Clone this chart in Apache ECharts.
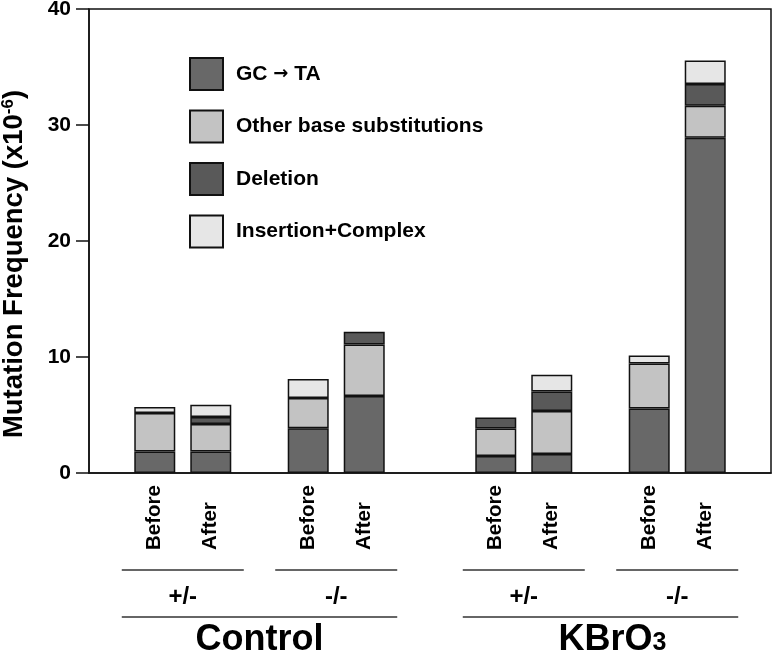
<!DOCTYPE html>
<html>
<head>
<meta charset="utf-8">
<script src="https://cdn.jsdelivr.net/npm/echarts@6/dist/echarts.min.js"></script>
<style>
html,body{margin:0;padding:0;background:#fff;}
#chart{width:773px;height:655px;}
</style>
</head>
<body>
<div id="chart"></div>
<script>
// ---- data ----
const groups = ['Control +/-', 'Control -/-', 'KBrO3 +/-', 'KBrO3 -/-'];
const treatments = ['Control', 'KBrO3'];
const genotypes = ['+/-', '-/-'];
const conditions = ['Before', 'After'];
const seriesNames = ['GC \u2192 TA', 'Other base substitutions', 'Deletion', 'Insertion+Complex'];

const gcBefore    = [1.85, 3.86, 1.47, 5.56];
const gcAfter     = [1.85, 6.64, 1.64, 28.9];
const otherBefore = [3.32, 2.61, 2.36, 3.88];
const otherAfter  = [2.37, 4.44, 3.71, 2.77];
const delBefore   = [0, 0, 0.95, 0];
const delAfter    = [0.60, 1.09, 1.67, 1.87];
const insBefore   = [0.53, 1.64, 0, 0.69];
const insAfter    = [1.07, 0, 1.44, 2.01];

const yMin = 0, yMax = 40, yInterval = 10;

// ---- layout helpers ----
const FONT = "'Liberation Sans', Arial, Helvetica, sans-serif";
const colors = ['#686868', '#c3c3c3', '#595959', '#e6e6e6'];
const slotCount = 40;
const groupSlots = [5, 14, 25, 34];

const categories = [];
for (let i = 0; i < slotCount; i++) categories.push('_' + i);
groupSlots.forEach((s, g) => { categories[s] = groups[g]; });

function spread(values) {
  const arr = new Array(slotCount).fill('-');
  groupSlots.forEach((s, g) => { arr[s] = values[g] === 0 ? '-' : values[g]; });
  return arr;
}

const beforeSets = [gcBefore, otherBefore, delBefore, insBefore];
const afterSets = [gcAfter, otherAfter, delAfter, insAfter];

const series = [];
[beforeSets, afterSets].forEach((sets, ci) => {
  sets.forEach((vals, si) => {
    const s = {
      name: seriesNames[si],
      type: 'bar',
      stack: conditions[ci],
      barWidth: 41,
      barGap: '36.6%',
      data: spread(vals),
      itemStyle: { color: colors[si], borderColor: '#111', borderWidth: 1.5 },
      emphasis: { disabled: true },
      animation: false
    };
    if (si === 0) {
      s.label = {
        show: true,
        position: 'bottom',
        distance: 77,
        rotate: 90,
        align: 'left',
        verticalAlign: 'middle',
        formatter: conditions[ci],
        color: '#000',
        fontFamily: FONT,
        fontWeight: 'bold',
        fontSize: 20.5
      };
    }
    series.push(s);
  });
});

const chart = echarts.init(document.getElementById('chart'), null, { renderer: 'canvas' });

chart.setOption({
  animation: false,
  backgroundColor: '#fff',
  grid: {
    left: 89, right: 2, top: 9, bottom: 182,
    outerBoundsMode: 'none',
    containLabel: false,
    show: true, borderColor: '#111', borderWidth: 1.5, backgroundColor: 'transparent'
  },
  legend: {
    data: seriesNames,
    orient: 'vertical',
    left: 184, top: 52,
    itemWidth: 33, itemHeight: 32, itemGap: 18.5,
    icon: 'rect',
    selectedMode: false,
    formatter: name => name.replace('\u2192', '{ar|\u2192}'),
    textStyle: {
      fontFamily: FONT, fontWeight: 'bold', fontSize: 21, color: '#000', padding: [0, 0, 0, 8],
      rich: { ar: { fontFamily: "'DejaVu Sans', sans-serif", fontSize: 18, color: '#000' } }
    }
  },
  xAxis: {
    type: 'category',
    data: categories,
    axisLine: { show: true, lineStyle: { color: '#111', width: 1.5 } },
    axisTick: { show: false },
    axisLabel: { show: false },
    splitLine: { show: false }
  },
  yAxis: {
    type: 'value',
    min: yMin, max: yMax, interval: yInterval,
    name: 'Mutation Frequency (x10{sup|-6})',
    nameLocation: 'middle',
    nameGap: 61,
    nameRotate: 90,
    nameTextStyle: {
      fontFamily: FONT, fontWeight: 'bold', fontSize: 27.5, color: '#000',
      padding: [0, 46, 0, 0],
      rich: { sup: { fontFamily: FONT, fontWeight: 'bold', fontSize: 17, color: '#000', verticalAlign: 'top' } }
    },
    axisLine: { show: true, lineStyle: { color: '#111', width: 1.5 } },
    axisTick: { show: true, inside: false, length: 13, lineStyle: { color: '#111', width: 1.5 } },
    axisLabel: { fontFamily: FONT, fontWeight: 'bold', fontSize: 21, color: '#000', margin: 18 },
    splitLine: { show: false }
  },
  series: series
});

// ---- group annotations below the axis, positioned from the category axis ----
const baseY = chart.convertToPixel({ yAxisIndex: 0 }, 0);
const centers = groupSlots.map(s => chart.convertToPixel({ xAxisIndex: 0 }, s));
const half = 61;
const elements = [];
centers.forEach((cx, g) => {
  elements.push({
    type: 'line',
    shape: { x1: cx - half, y1: baseY + 97, x2: cx + half, y2: baseY + 97 },
    style: { stroke: '#333', lineWidth: 1.5 }
  });
  elements.push({
    type: 'text',
    x: cx, y: baseY + 124,
    style: {
      text: genotypes[g % 2], fill: '#000',
      font: 'bold 24px ' + FONT,
      textAlign: 'center', textVerticalAlign: 'middle', align: 'center', verticalAlign: 'middle'
    }
  });
});
treatments.forEach((t, ti) => {
  const left = centers[ti * 2] - half;
  const right = centers[ti * 2 + 1] + half;
  elements.push({
    type: 'line',
    shape: { x1: left, y1: baseY + 144, x2: right, y2: baseY + 144 },
    style: { stroke: '#333', lineWidth: 1.5 }
  });
  const txt = t === 'KBrO3' ? 'KBrO{s|3}' : t;
  elements.push({
    type: 'text',
    x: (left + right) / 2 + (ti === 1 ? 12 : 0), y: baseY + 167,
    style: {
      text: txt, fill: '#000',
      font: 'bold 36px ' + FONT,
      textAlign: 'center', textVerticalAlign: 'middle', align: 'center', verticalAlign: 'middle',
      rich: { s: { font: 'bold 25px ' + FONT, fill: '#000', verticalAlign: 'bottom', padding: [0, 0, 2, 0] } }
    }
  });
});
chart.setOption({ graphic: { elements: elements } });
</script>
</body>
</html>
